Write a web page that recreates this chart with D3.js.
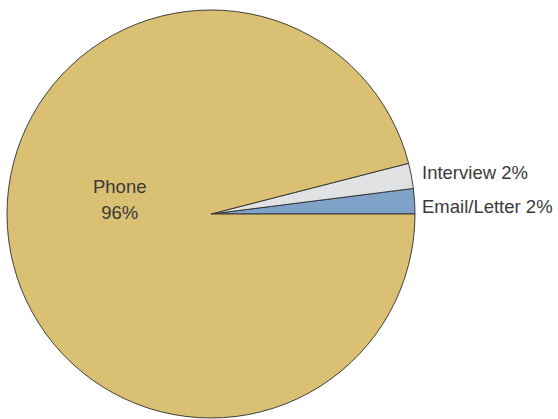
<!DOCTYPE html>
<html>
<head>
<meta charset="utf-8">
<script src="https://cdn.jsdelivr.net/npm/d3@7"></script>
<style>
  body { margin: 0; background: #fff; }
  text { font-family: "Liberation Sans", Arial, sans-serif; fill: #3a3a3a; }
</style>
</head>
<body>
<div id="chart"></div>
<script>
const w = 558;
const h = 419;

// slices, listed counterclockwise from 3 o'clock
const categories = ["Email/Letter", "Interview", "Phone"];
const values = [2, 2, 96];
const colors = ["#7fa2c9", "#e1e2e3", "#d9c073"];

const cx = 211, cy = 214, r = 204;

const svg = d3.select("#chart").append("svg")
  .attr("width", w)
  .attr("height", h);

const g = svg.append("g").attr("transform", `translate(${cx},${cy})`);

const pie = d3.pie()
  .sort(null)
  .value((d) => d.value)
  .startAngle(Math.PI / 2)
  .endAngle(Math.PI / 2 - 2 * Math.PI);

const data = categories.map((c, i) => ({ name: c, value: values[i], color: colors[i] }));
const arcs = pie(data);

const arc = d3.arc().innerRadius(0).outerRadius(r);

g.selectAll("path")
  .data(arcs)
  .enter()
  .append("path")
  .attr("d", arc)
  .style("fill", (d) => d.data.color)
  .style("stroke", "#2e2e2e")
  .style("stroke-width", 0.9);

// small slices: label outside to the right, stacked upward
const small = arcs.filter((d) => d.data.value < 10);
g.selectAll("text.outside")
  .data(small)
  .enter()
  .append("text")
  .attr("class", "outside")
  .attr("x", r + 7)
  .attr("y", (d, i) => -1 - 34 * i)
  .style("font-size", "18.5px")
  .text((d) => `${d.data.name} ${d.data.value}%`);

// big slice: label inside
const big = arcs.filter((d) => d.data.value >= 10);
const labelArc = d3.arc().innerRadius(92).outerRadius(92);
big.forEach((d) => {
  const [x, y] = labelArc.centroid(d);
  const t = g.append("text")
    .attr("text-anchor", "middle")
    .attr("transform", `translate(${x},${y - 33})`)
    .style("font-size", "18.5px");
  t.append("tspan").attr("x", 0).attr("dy", 0).text(d.data.name);
  t.append("tspan").attr("x", 0).attr("dy", 26).text(`${d.data.value}%`);
});
</script>
</body>
</html>
